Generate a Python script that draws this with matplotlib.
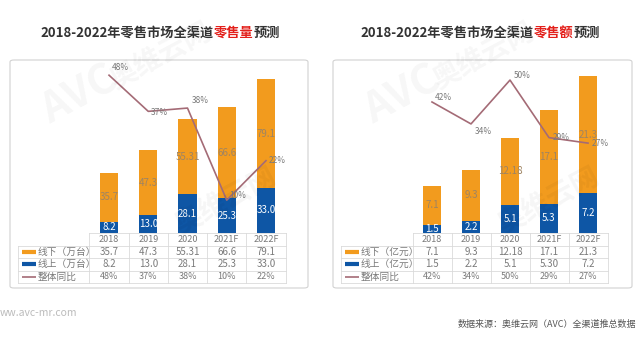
import matplotlib.pyplot as plt
import matplotlib.transforms as mtransforms
from matplotlib.patches import FancyBboxPatch
from matplotlib.lines import Line2D

plt.rcParams['font.family'] = ['Noto Sans CJK SC', 'DejaVu Sans']

# data
years = ['2018', '2019', '2020', '2021F', '2022F']
vol_offline = [35.7, 47.3, 55.31, 66.6, 79.1]
vol_online = [8.2, 13.0, 28.1, 25.3, 33.0]
vol_yoy = [48, 37, 38, 10, 22]
vol_offline_txt = ['35.7', '47.3', '55.31', '66.6', '79.1']
vol_online_txt = ['8.2', '13.0', '28.1', '25.3', '33.0']

amt_offline = [7.1, 9.3, 12.18, 17.1, 21.3]
amt_online = [1.5, 2.2, 5.1, 5.30, 7.2]
amt_yoy = [42, 34, 50, 29, 27]
amt_offline_txt = ['7.1', '9.3', '12.18', '17.1', '21.3']
amt_online_txt = ['1.5', '2.2', '5.1', '5.30', '7.2']

ORANGE = '#F29B1E'
BLUE = '#0E56A5'
LINE = '#A46B76'
GRAY = '#7A7A7A'

W, H = 640, 338
fig = plt.figure(figsize=(6.4, 3.38), dpi=100)


def fx(px):
    return px / W


def fy(py):
    return 1 - py / H


def bar_label(v):
    s = f'{v:.2f}'
    return s[:-1] if s.endswith('0') else s


def panel(box, ax_lr, lab_x, offline, online, yoy, off_txt, on_txt, unit,
          ylim1, ylim2, title_parts, title_cx, pct_pos):
    # rounded frame
    fig.patches.append(FancyBboxPatch((fx(box[0]), fy(box[3])), fx(box[1] - box[0]),
                                      (box[3] - box[2]) / H,
                                      boxstyle='round,pad=0,rounding_size=0.006',
                                      transform=fig.transFigure, fc='none',
                                      ec='#D2D2D2', lw=0.8))
    ax = fig.add_axes([fx(ax_lr[0]), fy(233), fx(ax_lr[1] - ax_lr[0]), 168 / H])
    x = list(range(len(years)))
    ax.bar(x, online, width=0.47, color=BLUE)
    ax.bar(x, offline, width=0.47, bottom=online, color=ORANGE)
    for i in x:
        ax.text(i, online[i] / 2, bar_label(online[i]), ha='center', va='center',
                fontsize=7, color='white')
        ax.text(i, online[i] + offline[i] / 2, bar_label(offline[i]), ha='center',
                va='center', fontsize=7, color='#9E8463')
    ax.set_xlim(-0.5, 4.5)
    ax.set_ylim(*ylim1)
    ax.axis('off')

    ax2 = ax.twinx()
    ax2.plot(x, yoy, color=LINE, lw=1.2)
    for i in x:
        dx, dy, va = pct_pos[i]
        ax2.annotate(f'{yoy[i]}%', (i, yoy[i]), xytext=(dx, dy),
                     textcoords='offset points', fontsize=6, color=GRAY,
                     ha='left', va=va)
    ax2.set_ylim(*ylim2)
    ax2.axis('off')

    # table
    tr = mtransforms.blended_transform_factory(ax.transData, fig.transFigure)
    rows = [233, 245.5, 258, 270.5, 283]
    gc = '#DADADA'
    fig.add_artist(Line2D([fx(ax_lr[0]), fx(ax_lr[1])], [fy(rows[0])] * 2, color=gc, lw=0.6))
    for r in rows[1:]:
        fig.add_artist(Line2D([fx(lab_x - 4), fx(ax_lr[1])], [fy(r)] * 2, color=gc, lw=0.6))
    for k in range(len(years) + 1):
        xx = -0.5 + k
        fig.add_artist(Line2D([xx, xx], [fy(rows[0]), fy(rows[-1])], color=gc, lw=0.6,
                              transform=tr))
    fig.add_artist(Line2D([fx(lab_x - 4)] * 2, [fy(rows[1]), fy(rows[-1])], color=gc, lw=0.6))
    ymid = [(rows[j] + rows[j + 1]) / 2 for j in range(4)]
    for i in x:
        fig.text(i, fy(ymid[0]), years[i], transform=tr, ha='center', va='center',
                 fontsize=6.5, color=GRAY)
        fig.text(i, fy(ymid[1]), off_txt[i], transform=tr, ha='center', va='center',
                 fontsize=7, color=GRAY)
        fig.text(i, fy(ymid[2]), on_txt[i], transform=tr, ha='center', va='center',
                 fontsize=7, color=GRAY)
        fig.text(i, fy(ymid[3]), f'{yoy[i]}%', transform=tr, ha='center', va='center',
                 fontsize=6.5, color=GRAY)
    legend_rows = [(f'线下（{unit}）', ORANGE, 3), (f'线上（{unit}）', BLUE, 3),
                   ('整体同比', LINE, 1.2)]
    for j, (lab, col, lw) in enumerate(legend_rows):
        yy = fy(ymid[j + 1])
        fig.add_artist(Line2D([fx(lab_x), fx(lab_x + 14)], [yy, yy], color=col, lw=lw,
                              solid_capstyle='butt'))
        fig.text(fx(lab_x + 16), yy, lab, ha='left', va='center', fontsize=7, color=GRAY)

    # title with highlighted words
    r = fig.canvas.get_renderer()
    ts = [fig.text(0, fy(33), s, color=c, fontsize=9.5, fontweight='bold',
                   ha='left', va='center') for s, c in title_parts]
    ws = [t.get_window_extent(r).width for t in ts]
    xs = title_cx - sum(ws) / 2
    for t, w in zip(ts, ws):
        t.set_x(fx(xs))
        xs += w

    # faint watermark
    fig.text(fx(box[0] + 70), fy(95), 'AVC', fontsize=30, fontweight='bold',
             color='#000000', alpha=0.035, rotation=28, ha='center', va='center')
    fig.text(fx(box[0] + 150), fy(55), '奥维云网', fontsize=20, fontweight='bold',
             color='#000000', alpha=0.035, rotation=28, ha='center', va='center')
    fig.text(fx(box[0] + 215), fy(200), '奥维云网', fontsize=20, fontweight='bold',
             color='#000000', alpha=0.04, rotation=28, ha='center', va='center')


DARK = '#333333'
RED = '#E3201B'

panel(box=(10, 308, 60, 288), ax_lr=(89.4, 285.6), lab_x=22,
      offline=vol_offline, online=vol_online, yoy=vol_yoy,
      off_txt=vol_offline_txt, on_txt=vol_online_txt, unit='万台',
      ylim1=(0, 122.6), ylim2=(0, 51.1),
      title_parts=[('2018-2022年零售市场全渠道', DARK), ('零售量', RED), ('预测', DARK)],
      title_cx=160,
      pct_pos=[(2, 2, 'bottom'), (2, -1, 'center'), (3, 2, 'bottom'),
               (2, 0, 'bottom'), (2, 0, 'center')])

panel(box=(333, 632, 60, 288), ax_lr=(412.5, 607.5), lab_x=345,
      offline=amt_offline, online=amt_online, yoy=amt_yoy,
      off_txt=amt_offline_txt, on_txt=amt_online_txt, unit='亿元',
      ylim1=(0, 30.5), ylim2=(-5.8, 55.5),
      title_parts=[('2018-2022年零售市场全渠道', DARK), ('零售额', RED), ('预测', DARK)],
      title_cx=480,
      pct_pos=[(2, 0, 'bottom'), (3, -2, 'top'), (3, 0, 'bottom'),
               (3, 0, 'center'), (3, 0, 'center')])

fig.text(fx(0), fy(313), 'ww.avc-mr.com', fontsize=7.5, color='#BBBBBB',
         ha='left', va='center')
fig.text(fx(636), fy(324), '数据来源：奥维云网（AVC）全渠道推总数据', fontsize=6.5,
         color='#555555', ha='right', va='center')

fig.savefig('out.png', dpi=100)
